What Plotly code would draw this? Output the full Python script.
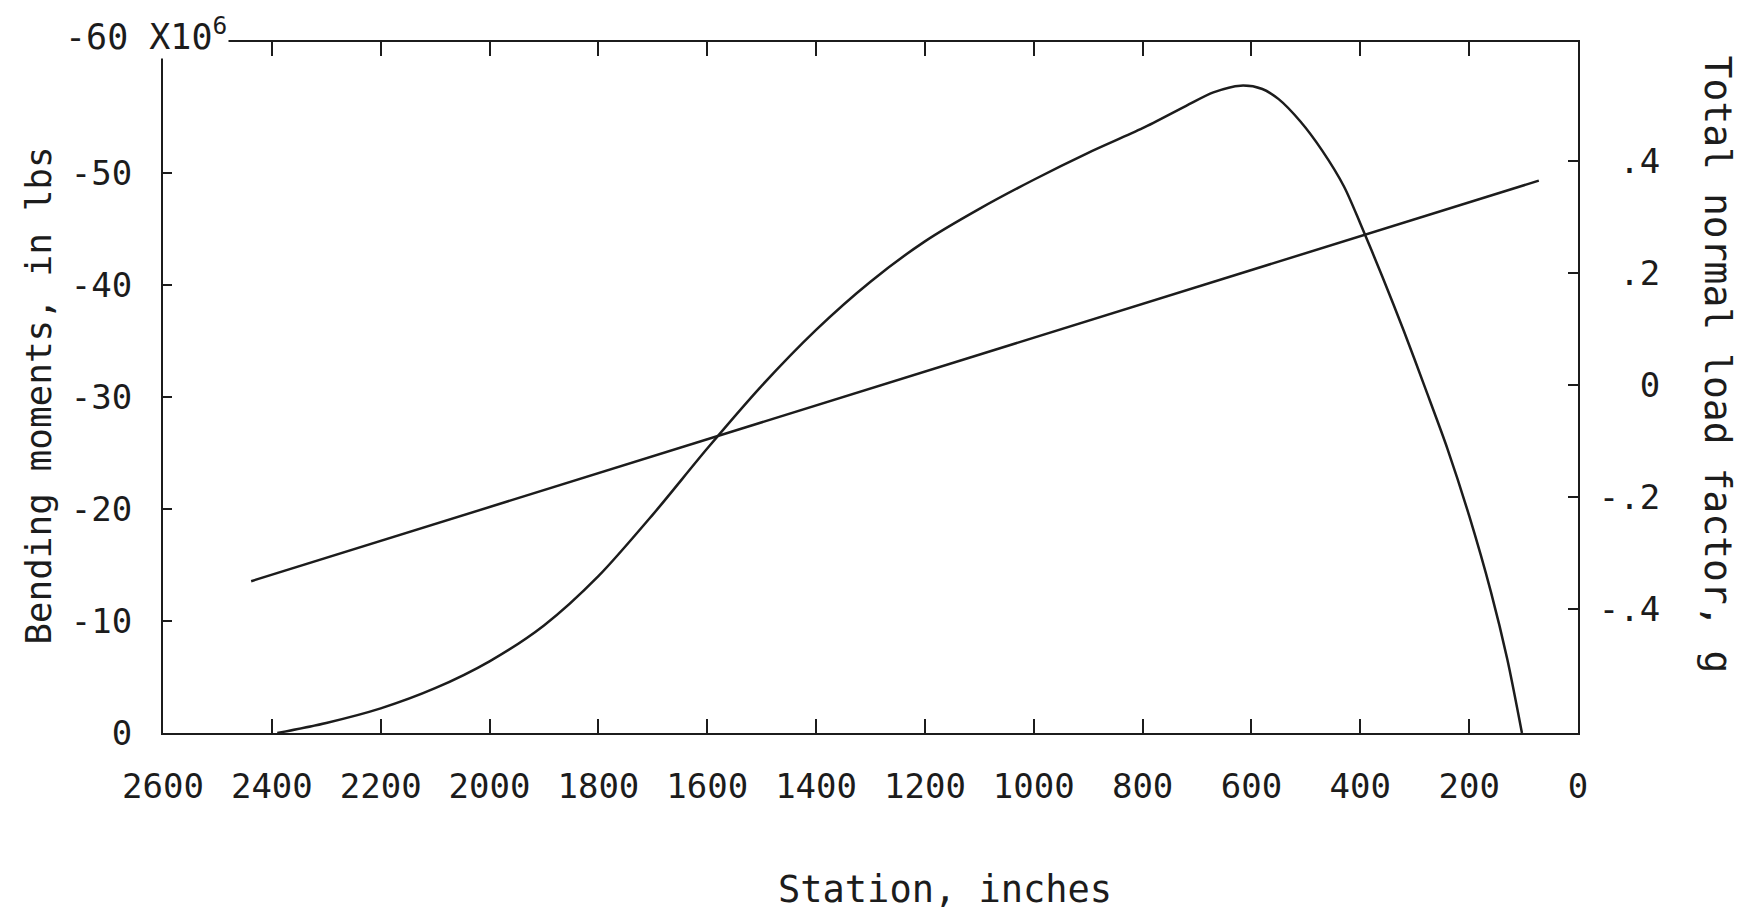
import plotly.graph_objects as go

# ---- data ----
moment_station = [2390, 2300, 2200, 2100, 2000, 1900, 1800, 1700, 1600, 1500, 1400, 1300,
                  1200, 1100, 1000, 900, 800, 720, 670, 620, 580, 550, 510, 470, 430, 400,
                  360, 320, 280, 240, 200, 160, 130, 103]
moment_value = [0.0, -0.9, -2.2, -4.0, -6.4, -9.6, -14.0, -19.5, -25.4, -31.0, -36.0, -40.3,
                -43.9, -46.8, -49.4, -51.8, -54.0, -56.0, -57.2, -57.8, -57.5, -56.6, -54.6,
                -52.0, -48.8, -45.5, -40.8, -35.9, -30.7, -25.4, -19.4, -12.6, -6.6, 0.0]

load_station = [2438, 72]
load_factor = [-0.350, 0.365]

x_ticks = [2600, 2400, 2200, 2000, 1800, 1600, 1400, 1200, 1000, 800, 600, 400, 200, 0]
y_ticks = [-50, -40, -30, -20, -10, 0]
y2_ticks = [0.4, 0.2, 0.0, -0.2, -0.4]
y2_labels = ["\u00a0.4", "\u00a0.2", "\u00a0\u00a00", "-.2", "-.4"]

FONT = "DejaVu Sans Mono"
INK = "#1c1c1c"

fig = go.Figure()
fig.add_trace(go.Scatter(x=moment_station, y=moment_value, mode="lines",
                         line=dict(color=INK, width=2.5, shape="spline", smoothing=0.8),
                         showlegend=False, yaxis="y"))
fig.add_trace(go.Scatter(x=load_station, y=load_factor, mode="lines",
                         line=dict(color=INK, width=2.5),
                         showlegend=False, yaxis="y2"))

axis_common = dict(showgrid=False, zeroline=False, showline=True, linecolor=INK, linewidth=2,
                   ticks="inside", tickcolor=INK, tickwidth=2,
                   tickfont=dict(family=FONT, size=34, color=INK))

fig.update_layout(
    width=1749, height=912,
    margin=dict(l=163, r=171, t=42, b=179),
    paper_bgcolor="white", plot_bgcolor="white",
    xaxis=dict(range=[2600, 0], tickvals=x_ticks, ticktext=[str(v) for v in x_ticks],
               ticklen=14, mirror="ticks", ticklabelstandoff=22, **axis_common),
    yaxis=dict(range=[0, -61.7], tickvals=y_ticks, ticktext=[str(v) for v in y_ticks],
               ticklen=9, mirror=True, ticklabelstandoff=22, **axis_common),
    yaxis2=dict(range=[-0.621, 0.6125], overlaying="y", side="right",
                tickvals=y2_ticks, ticktext=y2_labels, ticklen=10,
                ticklabelstandoff=12, **axis_common),
    annotations=[
        dict(text="-60 X10<sup>6</sup>", xref="paper", yref="paper", x=0, y=1,
             xanchor="left", yanchor="middle", xshift=-100, yshift=8, showarrow=False,
             bgcolor="white", font=dict(family=FONT, size=35, color=INK)),
        dict(text="Bending moments, in lbs", xref="paper", yref="paper", x=-0.0876, y=0.488,
             textangle=-90, showarrow=False, xanchor="center", yanchor="middle",
             font=dict(family=FONT, size=36, color=INK)),
        dict(text="Total normal load factor, g", xref="paper", yref="paper", x=1.099, y=0.533,
             textangle=90, showarrow=False, xanchor="center", yanchor="middle",
             font=dict(family=FONT, size=38, color=INK)),
        dict(text="Station, inches", xref="paper", yref="paper", x=0.553, y=-0.226,
             showarrow=False, xanchor="center", yanchor="middle",
             font=dict(family=FONT, size=37, color=INK)),
    ],
)

fig.write_html("out.html")
